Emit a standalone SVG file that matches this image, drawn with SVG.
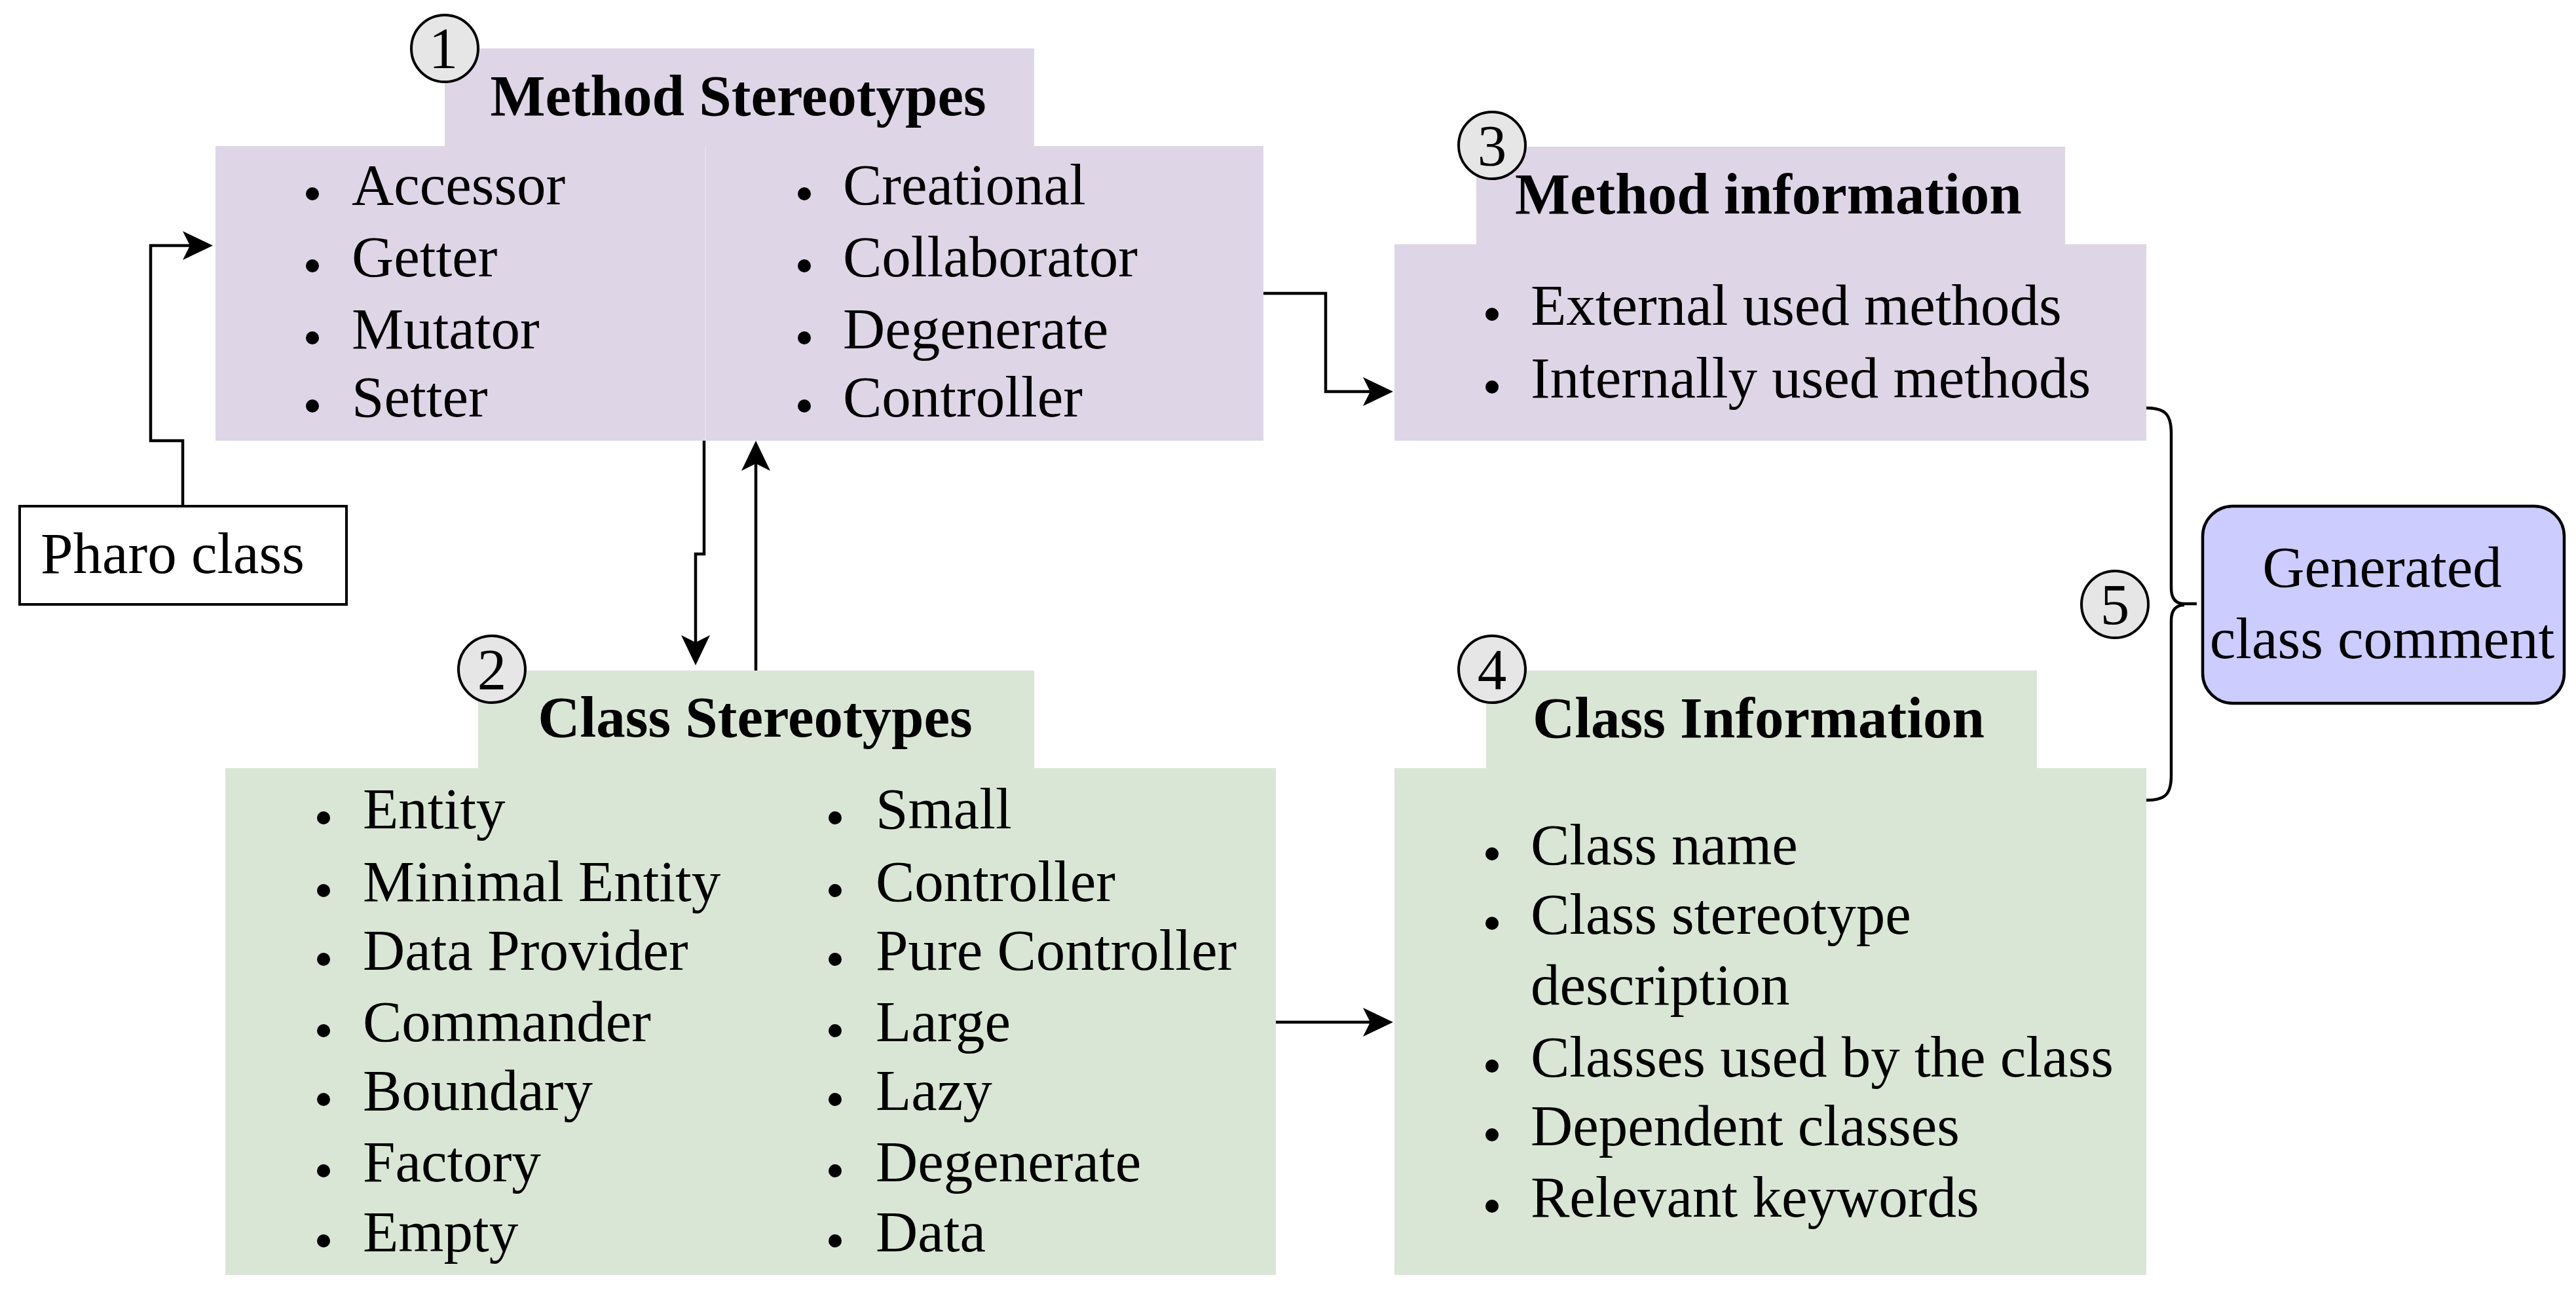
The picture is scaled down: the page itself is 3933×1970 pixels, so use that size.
<svg xmlns="http://www.w3.org/2000/svg" width="3933" height="1970" viewBox="0 0 3933 1970">
<style>
text{font-family:"Liberation Serif","Times New Roman",serif;font-size:89px;fill:#000}
.b{font-weight:bold}
.m{text-anchor:middle}
.pur{fill:#ded5e7}
.grn{fill:#d9e6d5}
.seam{stroke:#e6dfee;stroke-width:2}
.num{fill:#e6e6e6;stroke:#000;stroke-width:4}
.dot{fill:#000}
.conn{fill:none;stroke:#000;stroke-width:4.5}
</style>
<defs>
<marker id="ah" markerUnits="userSpaceOnUse" viewBox="-12 -23 48 46" refX="0" refY="0" markerWidth="48" markerHeight="46" orient="auto">
<path d="M35,0 L-11,-22 L0,0 L-11,22 Z" fill="#000"/>
</marker>
</defs>
<rect width="3933" height="1970" fill="#fff"/>

<g id="connectors">
<path class="conn" d="M279,772 V673 H230 V375 H290" marker-end="url(#ah)"/>
<path class="conn" d="M1075,673 V846 H1062 V981" marker-end="url(#ah)"/>
<path class="conn" d="M1154,1024 V708" marker-end="url(#ah)"/>
<path class="conn" d="M1929,448 H2024 V598 H2092" marker-end="url(#ah)"/>
<path class="conn" d="M1948,1561 H2092" marker-end="url(#ah)"/>
<path class="conn" d="M3277,623 C3305,623 3315,632 3315,662 V898 Q3315,922 3335,922 H3354 M3335,924 Q3315,924 3315,948 V1184 C3315,1214 3305,1222 3277,1222"/>
</g>

<g id="pharo-class">
<rect x="30" y="773" width="499" height="150" fill="#fff" stroke="#000" stroke-width="4"/>
<text x="62" y="875">Pharo class</text>
</g>

<g id="method-stereotypes">
<rect class="pur" x="679" y="74" width="900" height="150"/>
<rect class="pur" x="329" y="223" width="1600" height="450"/>
<line class="seam" x1="1077" y1="224" x2="1077" y2="672"/>
<text class="b m" x="1127" y="176">Method Stereotypes</text>
<circle class="dot" cx="477" cy="296" r="10"/><text x="537" y="312">Accessor</text>
<circle class="dot" cx="477" cy="406" r="10"/><text x="537" y="422">Getter</text>
<circle class="dot" cx="477" cy="516" r="10"/><text x="537" y="532">Mutator</text>
<circle class="dot" cx="477" cy="620" r="10"/><text x="537" y="636">Setter</text>
<circle class="dot" cx="1228" cy="296" r="10"/><text x="1287" y="312">Creational</text>
<circle class="dot" cx="1228" cy="406" r="10"/><text x="1287" y="422">Collaborator</text>
<circle class="dot" cx="1228" cy="516" r="10"/><text x="1287" y="532">Degenerate</text>
<circle class="dot" cx="1228" cy="620" r="10"/><text x="1287" y="636">Controller</text>
</g>
<g id="badge-1">
<circle class="num" cx="679" cy="74" r="51"/>
<text class="m" x="677" y="103">1</text>
</g>

<g id="class-stereotypes">
<rect class="grn" x="730" y="1024" width="849" height="150"/>
<rect class="grn" x="344" y="1173" width="1604" height="774"/>
<text class="b m" x="1153" y="1125">Class Stereotypes</text>
<circle class="dot" cx="494" cy="1249" r="10"/><text x="554" y="1265">Entity</text>
<circle class="dot" cx="494" cy="1360" r="10"/><text x="554" y="1376">Minimal Entity</text>
<circle class="dot" cx="494" cy="1465" r="10"/><text x="554" y="1481">Data Provider</text>
<circle class="dot" cx="494" cy="1574" r="10"/><text x="554" y="1590">Commander</text>
<circle class="dot" cx="494" cy="1679" r="10"/><text x="554" y="1695">Boundary</text>
<circle class="dot" cx="494" cy="1788" r="10"/><text x="554" y="1804">Factory</text>
<circle class="dot" cx="494" cy="1895" r="10"/><text x="554" y="1911">Empty</text>
<circle class="dot" cx="1275" cy="1249" r="10"/><text x="1337" y="1265">Small</text>
<circle class="dot" cx="1275" cy="1360" r="10"/><text x="1337" y="1376">Controller</text>
<circle class="dot" cx="1275" cy="1465" r="10"/><text x="1337" y="1481">Pure Controller</text>
<circle class="dot" cx="1275" cy="1574" r="10"/><text x="1337" y="1590">Large</text>
<circle class="dot" cx="1275" cy="1679" r="10"/><text x="1337" y="1695">Lazy</text>
<circle class="dot" cx="1275" cy="1788" r="10"/><text x="1337" y="1804">Degenerate</text>
<circle class="dot" cx="1275" cy="1895" r="10"/><text x="1337" y="1911">Data</text>
</g>
<g id="badge-2">
<circle class="num" cx="751" cy="1022" r="51"/>
<text class="m" x="751" y="1052">2</text>
</g>

<g id="method-information">
<rect class="pur" x="2254" y="224" width="899" height="150"/>
<rect class="pur" x="2129" y="373" width="1148" height="300"/>
<text class="b m" x="2700" y="326">Method information</text>
<circle class="dot" cx="2278" cy="480" r="10"/><text x="2337" y="496">External used methods</text>
<circle class="dot" cx="2278" cy="591" r="10"/><text x="2337" y="607">Internally used methods</text>
</g>
<g id="badge-3">
<circle class="num" cx="2278" cy="222" r="51"/>
<text class="m" x="2278" y="252">3</text>
</g>

<g id="class-information">
<rect class="grn" x="2269" y="1024" width="841" height="150"/>
<rect class="grn" x="2129" y="1173" width="1148" height="774"/>
<text class="b m" x="2685" y="1126">Class Information</text>
<circle class="dot" cx="2278" cy="1304" r="10"/><text x="2337" y="1320">Class name</text>
<circle class="dot" cx="2278" cy="1410" r="10"/><text x="2337" y="1426">Class stereotype</text>
<text x="2337" y="1534">description</text>
<circle class="dot" cx="2278" cy="1628" r="10"/><text x="2337" y="1644">Classes used by the class</text>
<circle class="dot" cx="2278" cy="1733" r="10"/><text x="2337" y="1749">Dependent classes</text>
<circle class="dot" cx="2278" cy="1842" r="10"/><text x="2337" y="1858">Relevant keywords</text>
</g>
<g id="badge-4">
<circle class="num" cx="2278" cy="1022" r="51"/>
<text class="m" x="2278" y="1052">4</text>
</g>

<g id="badge-5">
<circle class="num" cx="3229" cy="923" r="51"/>
<text class="m" x="3229" y="953">5</text>
</g>

<g id="generated-class-comment">
<rect x="3363" y="773" width="552" height="301" rx="46" ry="46" fill="#ccccff" stroke="#000" stroke-width="4.5"/>
<text class="m" x="3637" y="896">Generated</text>
<text class="m" x="3637" y="1005">class comment</text>
</g>
</svg>
